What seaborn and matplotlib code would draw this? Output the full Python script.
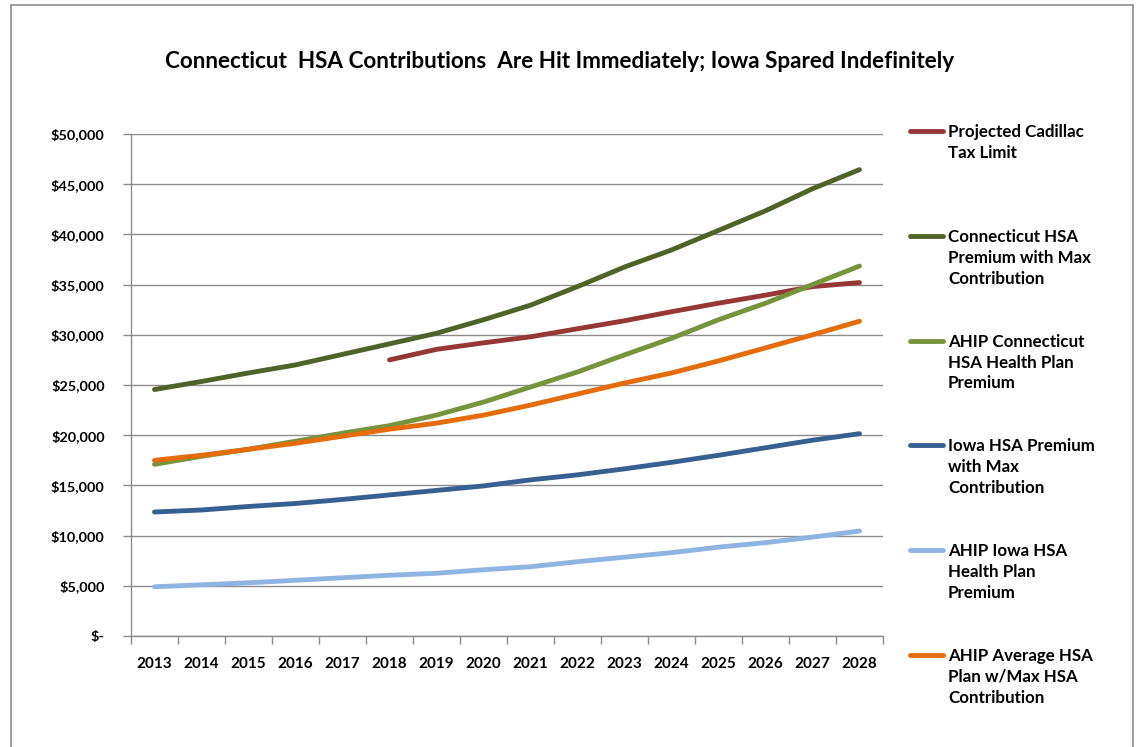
import numpy as np
import pandas as pd
import matplotlib
matplotlib.use("Agg")
import matplotlib.pyplot as plt
import seaborn as sns
from matplotlib.lines import Line2D
from matplotlib.patches import Rectangle
from matplotlib.ticker import FixedLocator, FuncFormatter, NullFormatter

nan = np.nan
years = list(range(2013, 2029))
cadillac = [nan, nan, nan, nan, nan, 27500, 28550, 29200, 29800, 30600, 31400,
            32300, 33150, 33950, 34800, 35200]
ct_max = [24550, 25350, 26200, 27000, 28050, 29100, 30150, 31500, 32950, 34800,
          36750, 38450, 40400, 42350, 44550, 46450]
ct_ahip = [17100, 17900, 18600, 19400, 20200, 20950, 22000, 23300, 24800, 26300,
           28000, 29650, 31500, 33150, 35000, 36850]
ia_max = [12350, 12550, 12900, 13200, 13600, 14050, 14500, 14950, 15550, 16050,
          16650, 17300, 18000, 18750, 19500, 20150]
ia_ahip = [4900, 5100, 5300, 5550, 5800, 6050, 6250, 6600, 6900, 7400, 7850,
           8300, 8850, 9300, 9850, 10450]
avg_ahip = [17500, 18000, 18600, 19200, 19900, 20600, 21200, 22000, 23000, 24100,
            25200, 26200, 27400, 28700, 30000, 31350]

series_names = ["Projected Cadillac Tax Limit",
                "Connecticut HSA Premium with Max Contribution",
                "AHIP Connecticut HSA Health Plan Premium",
                "Iowa HSA Premium with Max Contribution",
                "AHIP Iowa HSA Health Plan Premium",
                "AHIP Average HSA Plan w/Max HSA Contribution"]
legend_labels = ["Projected Cadillac\nTax Limit",
                 "Connecticut HSA\nPremium with Max\nContribution",
                 "AHIP Connecticut\nHSA Health Plan\nPremium",
                 "Iowa HSA Premium\nwith Max\nContribution",
                 "AHIP Iowa HSA\nHealth Plan\nPremium",
                 "AHIP Average HSA\nPlan w/Max HSA\nContribution"]
colors = ["#953735", "#4F6228", "#77933C", "#376092", "#8EB4E3", "#E46C0A"]
title = "Connecticut  HSA Contributions  Are Hit Immediately; Iowa Spared Indefinitely"

sns.set_theme(style="white")
plt.rcParams['font.family'] = ['Lato', 'DejaVu Sans']

W, H = 1139, 747
fig = plt.figure(figsize=(W / 100, H / 100), dpi=100)
fig.patch.set_facecolor("white")
ax = fig.add_axes([131 / W, 1 - 636 / H, (883 - 131) / W, (636 - 134) / H])

df = pd.DataFrame({"Year": years})
for name, vals in zip(series_names, [cadillac, ct_max, ct_ahip, ia_max, ia_ahip, avg_ahip]):
    df[name] = vals
long = df.melt(id_vars="Year", var_name="Series", value_name="Value").dropna()

sns.lineplot(data=long, x="Year", y="Value", hue="Series", hue_order=series_names,
             palette=colors, linewidth=3.5, solid_capstyle="round",
             legend=False, errorbar=None, ax=ax)

grid_c = "#8c8c8c"
ax.set_ylim(0, 50000)
ax.set_xlim(2012.5, 2028.5)
ax.yaxis.set_major_locator(FixedLocator(np.arange(0, 50001, 5000)))
ax.yaxis.set_major_formatter(FuncFormatter(lambda v, p: "$-" if v == 0 else f"${v:,.0f}"))
ax.yaxis.grid(True, color=grid_c, linewidth=1)
ax.xaxis.grid(False)
ax.set_axisbelow(True)
ax.xaxis.set_major_locator(FixedLocator(np.arange(2012.5, 2029, 1)))
ax.xaxis.set_major_formatter(NullFormatter())
ax.xaxis.set_minor_locator(FixedLocator(years))
ax.xaxis.set_minor_formatter(FuncFormatter(lambda v, p: f"{int(round(v))}"))
ax.tick_params(axis="x", which="major", direction="out", length=6, width=1, color=grid_c, bottom=True)
ax.tick_params(axis="x", which="minor", length=0, bottom=True, labelsize=11, pad=15)
ax.tick_params(axis="y", direction="out", length=6, width=1, color=grid_c, left=True,
               labelsize=10.4, pad=13)
for lab in ax.get_xticklabels(minor=True) + ax.get_yticklabels():
    lab.set_fontweight("bold")
    lab.set_color("black")
for s in ["top", "right"]:
    ax.spines[s].set_visible(False)
for s in ["left", "bottom"]:
    ax.spines[s].set_color(grid_c)
    ax.spines[s].set_linewidth(1)
ax.set_xlabel("")
ax.set_ylabel("")

fig.text(560 / W, 1 - 61 / H, title, ha="center", va="center", fontsize=16.2,
         fontweight="bold", color="black")

# legend (manual placement, handle aligned with first text line)
for i, (lab, c) in enumerate(zip(legend_labels, colors)):
    yc = 131 + i * 104.8
    fig.add_artist(Line2D([910 / W, 943 / W], [1 - yc / H, 1 - yc / H],
                          transform=fig.transFigure, color=c, linewidth=3.5,
                          solid_capstyle="round"))
    fig.text(948 / W, 1 - (yc - 7) / H, lab, ha="left", va="top",
             fontsize=12.2, fontweight="bold", color="black", linespacing=1.38)

fig.add_artist(Rectangle((11 / W, -0.01), (1133 - 11) / W, 1 - 5 / H + 0.01,
                         transform=fig.transFigure, fill=False,
                         edgecolor="#8c8c8c", linewidth=1.2))

fig.savefig("out.png", dpi=100)
